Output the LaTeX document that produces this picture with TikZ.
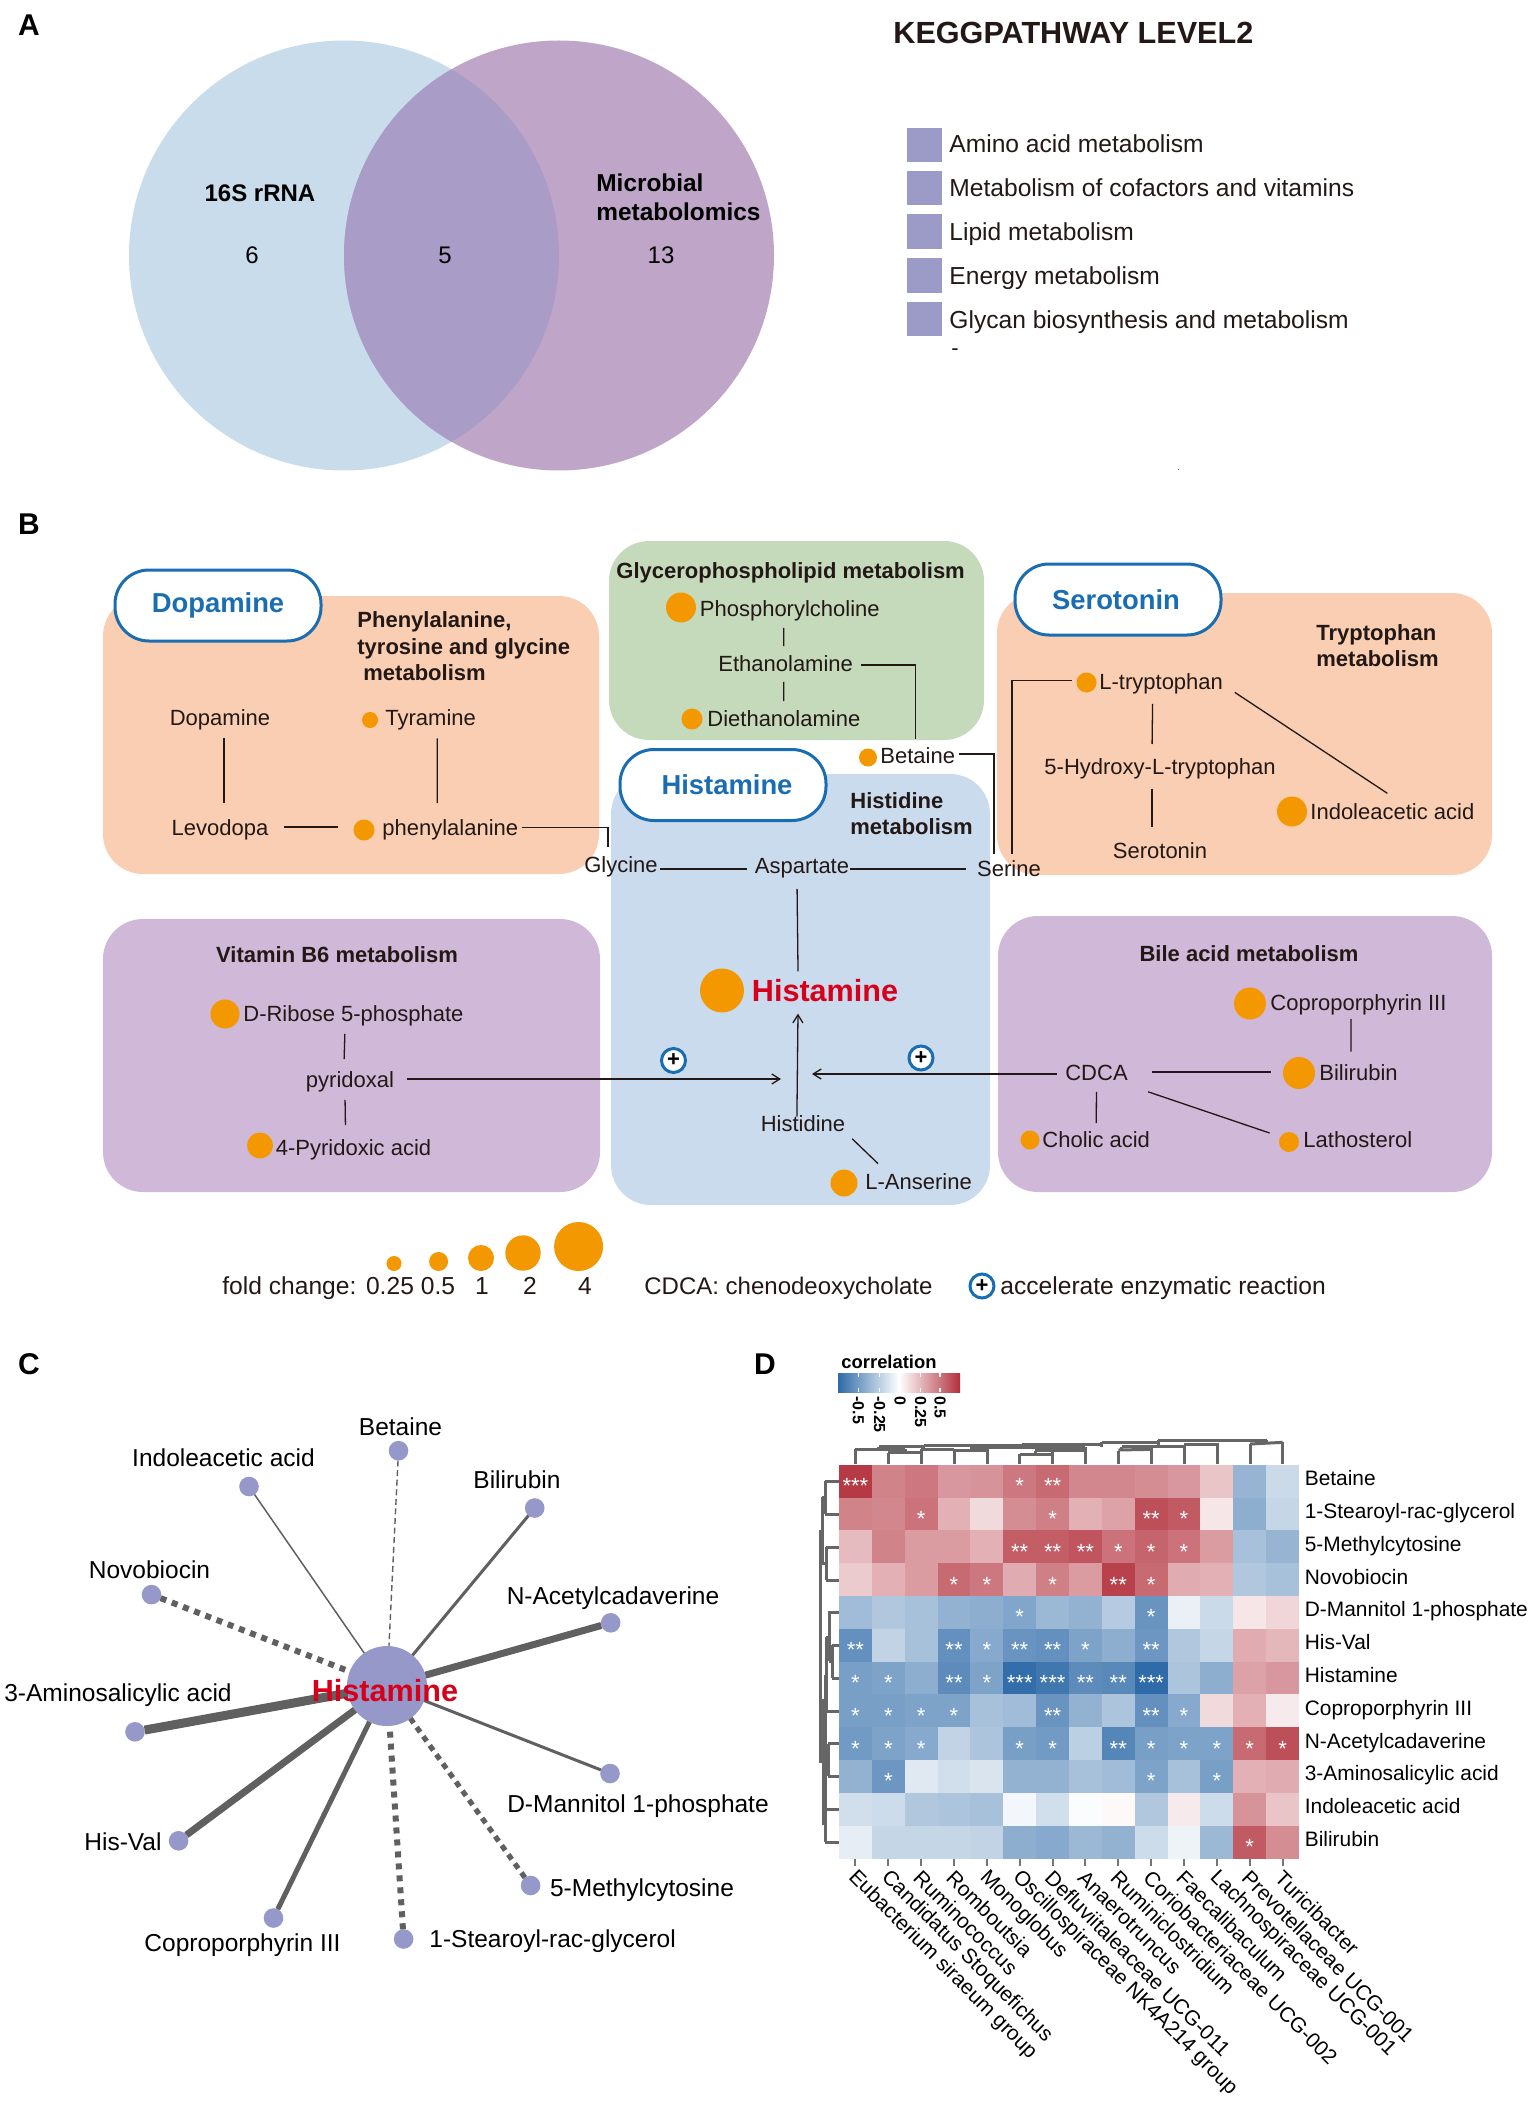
\documentclass[tikz,border=0pt]{standalone}
\usepackage{fontspec}
\setmainfont{Liberation Sans}
\usetikzlibrary{arrows.meta}
\definecolor{txtc}{HTML}{231815}
\definecolor{vennA}{HTML}{C9DCEC}
\definecolor{vennB}{HTML}{BFA6C8}
\definecolor{vennC}{HTML}{A99DC7}
\definecolor{legsq}{HTML}{9C9AC6}
\definecolor{boxo}{HTML}{F9CEB2}
\definecolor{boxg}{HTML}{C4DABB}
\definecolor{boxb}{HTML}{CADBEE}
\definecolor{boxp}{HTML}{CFB8D8}
\definecolor{pillc}{HTML}{1A6DB1}
\definecolor{dotc}{HTML}{F39800}
\definecolor{redc}{HTML}{D7001A}
\definecolor{hubc}{HTML}{9698C9}
\definecolor{edgec}{HTML}{606060}
\definecolor{hmb}{HTML}{2F6BA8}
\definecolor{hmr}{HTML}{B2303C}
\definecolor{dendc}{HTML}{666666}
\newcommand{\fsz}[1]{\fontsize{#1}{#1}\selectfont}
\tikzset{
  x=0.5pt,y=-0.5pt,
  t/.style={font=\fsz{11},text=txtc,inner sep=4pt,text height=8pt,text depth=0pt,yshift=0.65pt},
  lt/.style={t,anchor=west,xshift=-4pt},
  tb/.style={font=\fontsize{11}{13.3}\selectfont\bfseries,text=txtc,inner sep=0pt,align=left},
  odot/.style={circle,fill=dotc,inner sep=0pt,minimum size=#1},
  ln/.style={draw=txtc,line width=0.65pt},
  arw/.style={ln,-{Straight Barb[length=4pt,width=5pt]}},
  pathbox/.style={rounded corners=20pt},
  pillbox/.style={draw=pillc,fill=white,line width=1.5pt,rounded corners=17pt,minimum width=103pt,minimum height=35.5pt,font=\fsz{13.7}\bfseries,text=pillc,inner sep=0pt},
  plusc/.style={circle,draw=pillc,fill=white,line width=1.5pt,minimum size=12pt,inner sep=0pt,font=\fsz{11}\bfseries,text=black},
  letter/.style={font=\fsz{15}\bfseries,text=black,inner sep=0pt},
  venntext/.style={font=\fontsize{12.2}{14.7}\selectfont\bfseries,text=black,inner sep=0pt,align=left},
  vennnum/.style={font=\fsz{12},text=black,inner sep=0pt},
  keyt/.style={font=\fsz{12.3},text=txtc,inner sep=0pt,anchor=base west},
  legt/.style={font=\fsz{12.3},text=txtc,inner sep=0pt,text height=8.5pt,text depth=0pt},
  leaf/.style={circle,fill=hubc,inner sep=0pt,minimum size=9.8pt,outer sep=0pt},
  cl/.style={font=\fsz{12.25},text=black,inner sep=0pt,text height=8.5pt,text depth=0pt},
  ce/.style={draw=edgec,line width=#1},
  rl/.style={font=\fsz{10.45},text=black,inner sep=0pt,anchor=west,text height=7.5pt,text depth=0pt},
  cola/.style={font=\fsz{10.45},text=black,inner sep=0pt,anchor=west,rotate=-45},
  star/.style={font=\fsz{11},text=white,inner sep=0pt,anchor=base},
  dg/.style={draw=dendc,line width=1.5pt},
}
\begin{document}
\begin{tikzpicture}
\useasboundingbox[fill=white] (0,0) rectangle (1533,2102);

% ---------- panel letters
\node[letter] (lA) at (29,25) {A};
\node[letter] (lB) at (29,524) {B};
\node[letter] (lC) at (29,1364) {C};
\node[letter] (lD) at (765,1364) {D};

% ---------- panel A
\fill[vennA] (344,255.5) circle [radius=215];
\fill[vennB] (559,255.5) circle [radius=215];
\begin{scope}
  \clip (344,255.5) circle [radius=215];
  \fill[vennC] (559,255.5) circle [radius=215];
\end{scope}
\node[venntext,font=\fsz{12}\bfseries] (vL) at (260,193) {16S rRNA};
\node[venntext,anchor=west] (vR) at (596,197.5) {Microbial\\metabolomics};
\node[vennnum] (n6) at (252,255) {6};
\node[vennnum] (n5) at (445,255) {5};
\node[vennnum] (n13) at (661,255) {13};

\node[font=\fsz{15.3}\bfseries,text=txtc,inner sep=0pt,anchor=west] (kegg) at (893,33) {KEGGPATHWAY LEVEL2};
\foreach \ya/\yb/\yt/\lab [count=\i] in {128/162/152.7/Amino acid metabolism,171/205/196.7/Metabolism of cofactors and vitamins,214/249/240.7/Lipid metabolism,258/293/284.3/Energy metabolism,302/336/328.3/Glycan biosynthesis and metabolism}{
  \fill[legsq] (907,\ya) rectangle (942,\yb);
  \node[keyt] (key\i) at (949,\yt) {\lab};
}
\node[font=\fsz{11},text=txtc,inner sep=0pt] (dash1) at (955,352) {-};
\fill[gray] (1177.5,468.5) rectangle (1179,470);

% ---------- panel B boxes
\fill[boxo,pathbox] (103,596) rectangle (599,874);
\fill[boxp,pathbox] (103,919) rectangle (600,1192);
\fill[boxb,pathbox] (611,774) rectangle (990,1205);
\fill[boxg,pathbox] (609,541) rectangle (984,740);
\fill[boxo,pathbox] (997,593) rectangle (1492,875);
\fill[boxp,pathbox] (998,916) rectangle (1492,1192);

\node[pillbox] (pD) at (218,605.5) {Dopamine};
\node[pillbox] (pH) at (723,785) {\hspace*{4pt}Histamine};
\node[pillbox] (pS) at (1118,599.5) {\hspace*{-2pt}Serotonin};

% titles
\node[tb,anchor=west] (tPhe) at (357,646.5) {Phenylalanine,\\tyrosine and glycine\\\hspace*{3pt}metabolism};
\node[tb,anchor=west] (tGly) at (616,572.5) {Glycerophospholipid metabolism};
\node[tb,anchor=west] (tHis) at (850,813.5) {Histidine\\metabolism};
\node[tb,anchor=west] (tTrp) at (1316,645.5) {Tryptophan\\metabolism};
\node[tb] (tVit) at (337,955) {Vitamin B6 metabolism};
\node[tb] (tBil) at (1249,954) {Bile acid metabolism};

% left orange
\node[t] (dop) at (220,719) {Dopamine};
\node[odot=8pt] (dTyr) at (370,720) {};
\node[lt] (tyr) at (385,719) {Tyramine};
\node[t] (lev) at (220,829) {Levodopa};
\node[odot=10.5pt] (dPhe) at (364,830) {};
\node[lt] (phe) at (382,829) {phenylalanine};
% green
\node[odot=15pt] (dPho) at (681,607.5) {};
\node[lt] (pho) at (699.5,610) {Phosphorylcholine};
\node[lt] (eth) at (718,665) {Ethanolamine};
\node[odot=10.5pt] (dDie) at (692,719) {};
\node[lt] (die) at (707,720) {Diethanolamine};
\node[odot=9pt] (dBet) at (868,757.5) {};
\node[lt] (bet) at (880,757) {Betaine};
% centre
\node[t] (gly) at (621,866) {Glycine};
\node[t] (asp) at (802,867) {Aspartate};
\node[t] (ser) at (1009,870) {Serine};
\node[odot=22pt] (dHis) at (722,990.5) {};
\node[font=\fsz{15.3}\bfseries,text=redc,inner sep=4pt,anchor=west,xshift=-4pt] (his) at (751.5,991) {Histamine};
\node[t] (hisd) at (803,1125) {Histidine};
\node[odot=13.5pt] (dAns) at (844,1183) {};
\node[lt] (ans) at (865,1183) {L-Anserine};
% right orange
\node[odot=10pt] (dTrp) at (1086.5,682.5) {};
\node[lt] (trp) at (1099,683) {L-tryptophan};
\node[t] (hyd) at (1160,768) {5-Hydroxy-L-tryptophan};
\node[t] (srt) at (1160,852) {Serotonin};
\node[odot=15pt] (dInd) at (1292,811.5) {};
\node[lt] (ind) at (1310,813) {Indoleacetic acid};
% left purple
\node[odot=14.5pt] (dRib) at (225,1014) {};
\node[lt] (rib) at (243,1015) {D-Ribose 5-phosphate};
\node[t] (pyr) at (350,1081) {pyridoxal};
\node[odot=13pt] (dPyx) at (260,1145.5) {};
\node[lt] (pyx) at (275.5,1149) {4-Pyridoxic acid};
% right purple
\node[odot=16pt] (dCop) at (1250,1003.5) {};
\node[lt] (cop) at (1270,1003.5) {Coproporphyrin III};
\node[odot=16pt] (dBil) at (1299,1073) {};
\node[lt] (bil) at (1319,1074) {Bilirubin};
\node[t] (cdca) at (1096.5,1074) {CDCA};
\node[odot=9.5pt] (dCho) at (1030,1140) {};
\node[lt] (cho) at (1042,1141) {Cholic acid};
\node[odot=10pt] (dLat) at (1289,1142) {};
\node[lt] (lat) at (1303,1141) {Lathosterol};

% arrow targets
\coordinate (hitA) at (781,1079);
\coordinate (hitB) at (812,1074);

% connectors
\draw[ln,shorten <=2.1pt,shorten >=4.15pt] ([xshift=2pt]dop.south) -- ([xshift=2pt]lev.north);
\draw[ln,shorten <=2.1pt,shorten >=4.15pt] ([xshift=3.25pt]tyr.south) -- ([xshift=-6.5pt]phe.north);
\draw[ln,shorten <=3.5pt,shorten >=7.75pt] ([yshift=0.35pt]lev.east) -- ([yshift=1.5pt]dPhe.west);
\draw[ln,shorten <=-2.5pt,shorten >=0.85pt] (phe.east) -| ([xshift=-6.5pt]gly.north);
\draw[ln,shorten <=-3pt] ([yshift=-2.15pt]gly.east) -- ([yshift=-1.65pt]asp.west);
\draw[ln,shorten <=-3.5pt,shorten >=1.5pt] ([yshift=-1.65pt]asp.east) -- ([yshift=-0.15pt]ser.west);
\draw[ln,shorten <=3.35pt] ([xshift=-2.5pt]asp.south) -- ([xshift=-13.5pt]his.north);
\draw[arw,shorten <=-4.65pt,shorten >=1.5pt] ([xshift=-3pt]hisd.north) -- ([xshift=-13.5pt]his.south);
\draw[ln,shorten <=-1pt] (hisd.south east) -- ([xshift=10.5pt,yshift=0.85pt]ans.north west);
% green
\draw[ln,shorten <=1.35pt,shorten >=0.65pt] ([xshift=-3pt]pho.south) -- ([xshift=-1pt]eth.north);
\draw[ln,shorten <=0.85pt,shorten >=0.65pt] ([xshift=-1pt]eth.south) -- (die.north);
\draw[ln,shorten >=0.35pt] ([yshift=-0.65pt]eth.east) -| ([xshift=-1pt]bet.north);
\draw[ln,shorten <=-2pt,shorten >=-0.65pt] ([yshift=0.85pt]bet.east) -| ([xshift=-7.5pt]ser.north);
\draw[ln,shorten >=-0.65pt] ([yshift=1pt,xshift=-2pt]dTrp.west) -| ([xshift=1.5pt]ser.north);
% right orange
\draw[ln,shorten <=2.85pt,shorten >=3.15pt] ([xshift=-4.25pt]trp.south) -- ([xshift=-4pt]hyd.north);
\draw[ln,shorten <=2.85pt,shorten >=3.65pt] ([xshift=-4pt]hyd.south) -- ([xshift=-4pt]srt.north);
\draw[ln] ([xshift=1.75pt,yshift=2.85pt]trp.south east) -- ([xshift=-2.5pt,yshift=1pt]ind.north);
% left purple
\draw[ln,shorten <=1.85pt,shorten >=2.15pt] ([xshift=-4.25pt]rib.south) -- ([xshift=-3pt]pyr.north);
\draw[ln,shorten <=1.85pt,shorten >=3.15pt] ([xshift=-2.5pt]pyr.south) -- ([xshift=-4pt]pyx.north);
\draw[arw,shorten <=2.5pt] (pyr.east |- hitA) -- (hitA);
% right purple
\draw[ln,shorten <=0.1pt,shorten >=2.4pt] ([xshift=-3.75pt]cop.south) -- ([xshift=-3.75pt]bil.north);
\draw[arw] (cdca.west |- hitB) -- (hitB);
\draw[ln,shorten <=8pt,shorten >=6pt] ([yshift=0.35pt]cdca.east) -- ([yshift=0.5pt]dBil.west);
\draw[ln,shorten <=1.4pt,shorten >=0.15pt] (cdca.south) -- (cho.north);
\draw[ln] ([xshift=6pt,yshift=-1.35pt]cdca.south east) -- ([xshift=-4.5pt,yshift=4.5pt]dLat.west);

\node[plusc] (pl1) at (673.5,1060.5) {+};
\node[plusc] (pl2) at (921,1058) {+};

% fold change legend
\node[odot=7.5pt] (f1) at (394,1263.5) {};
\node[odot=9.5pt] (f2) at (438.6,1261.5) {};
\node[odot=13pt] (f3) at (481,1258) {};
\node[odot=17.7pt] (f4) at (523,1253) {};
\node[odot=24.5pt] (f5) at (578.6,1246.5) {};
\node[legt,anchor=west] (fc) at (222,1286) {fold change:};
\node[legt] (v1) at (390,1286) {0.25};
\node[legt] (v2) at (438,1286) {0.5};
\node[legt] (v3) at (482,1286) {1};
\node[legt] (v4) at (530,1286) {2};
\node[legt] (v5) at (585,1286) {4};
\node[legt,anchor=west,font=\fsz{12}] (cdt) at (644,1286) {CDCA: chenodeoxycholate};
\node[plusc] (pl3) at (982,1286) {+};
\node[legt,anchor=west] (acc) at (1000,1286) {accelerate enzymatic reaction};

% ---------- panel C
\node[circle,fill=hubc,inner sep=0pt,minimum size=40pt,outer sep=0pt] (hub) at (387,1686) {};
\node[leaf] (lBet) at (398.5,1450.7) {};
\node[leaf] (lInd) at (249,1486.5) {};
\node[leaf] (lBil) at (534.7,1508) {};
\node[leaf] (lNov) at (151.5,1594.6) {};
\node[leaf] (lNac) at (610.7,1622.8) {};
\node[leaf] (lAsa) at (135,1731.8) {};
\node[leaf] (lMan) at (610,1773.5) {};
\node[leaf] (lHvl) at (178.6,1840.8) {};
\node[leaf] (lMet) at (530.6,1885.5) {};
\node[leaf] (lCop) at (273.5,1918) {};
\node[leaf] (lSte) at (403.6,1939) {};
\draw[ce=0.7pt,dash pattern=on 3pt off 1.8pt] (lBet) -- (hub);
\draw[ce=0.75pt] (lInd) -- (hub);
\draw[ce=1.5pt] (lBil) -- (hub);
\draw[ce=3pt,dash pattern=on 3pt off 3pt] (lNov) -- (hub);
\draw[ce=3.5pt] (lNac) -- (hub);
\draw[ce=4.5pt] (lAsa) -- (hub);
\draw[ce=1.5pt] (lMan) -- (hub);
\draw[ce=3.5pt] (lHvl) -- (hub);
\draw[ce=2.6pt,dash pattern=on 3pt off 2.6pt] (lMet) -- (hub);
\draw[ce=2.5pt] (lCop) -- (hub);
\draw[ce=3pt,dash pattern=on 3pt off 3pt] (lSte) -- (hub);
\node[font=\fsz{15.3}\bfseries,text=redc,inner sep=0pt] (hubt) at (385,1690.5) {Histamine};
\node[cl] (cBet) at (400.5,1427) {Betaine};
\node[cl] (cInd) at (223.5,1458) {Indoleacetic acid};
\node[cl] (cBil) at (517,1480) {Bilirubin};
\node[cl] (cNov) at (149.5,1570) {Novobiocin};
\node[cl] (cNac) at (613,1595.5) {N-Acetylcadaverine};
\node[cl] (cAsa) at (118,1692.7) {3-Aminosalicylic acid};
\node[cl] (cMan) at (638,1804) {D-Mannitol 1-phosphate};
\node[cl] (cHvl) at (123,1841.7) {His-Val};
\node[cl] (cMet) at (642,1888) {5-Methylcytosine};
\node[cl] (cCop) at (242.5,1943) {Coproporphyrin III};
\node[cl] (cSte) at (552.6,1939) {1-Stearoyl-rac-glycerol};

% ---------- panel D
\node[font=\fsz{9.2}\bfseries,text=black,inner sep=0pt] (corr) at (889,1362) {correlation};
\shade[left color=hmb,right color=white] (838,1373) rectangle (899,1392);
\shade[left color=white,right color=hmr] (899,1373) rectangle (960,1392);
\foreach \xx/\lab [count=\i] in {858.4/-0.5,879.5/-0.25,900/0,920.6/0.25,940/0.5}{
  \draw[white,line width=0.8pt] (\xx,1373) -- (\xx,1377);
  \draw[white,line width=0.8pt] (\xx,1388) -- (\xx,1392);
  \node[font=\fsz{8}\bfseries,text=black,inner sep=0pt,anchor=west,rotate=-90] (cb\i) at (\xx,1396) {\lab};
}
% heat map
\foreach \rowv [count=\r] in {
 {95,60,65,50,52,65,72,58,58,55,50,28,-50,-25},
 {60,58,68,38,18,55,62,38,45,85,80,12,-55,-28},
 {33,60,48,48,38,78,78,82,68,75,68,48,-42,-50},
 {25,38,48,72,65,40,62,48,92,72,40,38,-38,-42},
 {-45,-38,-42,-52,-55,-60,-48,-52,-35,-72,-10,-25,12,20},
 {-75,-30,-42,-75,-58,-72,-75,-62,-55,-70,-38,-28,40,35},
 {-65,-62,-55,-78,-62,-98,-92,-78,-80,-100,-40,-55,45,50},
 {-65,-65,-62,-62,-42,-45,-72,-52,-40,-75,-58,18,38,10},
 {-68,-62,-58,-30,-40,-65,-68,-32,-82,-65,-62,-62,72,85},
 {-52,-70,-15,-22,-18,-52,-52,-42,-45,-62,-42,-65,38,40},
 {-22,-24,-38,-40,-42,-6,-22,-2,3,-38,10,-24,52,28},
 {-12,-28,-28,-28,-30,-55,-58,-48,-52,-24,-8,-48,80,55}}{
  \foreach \v [count=\c] in \rowv {
    \pgfmathtruncatemacro\vv{abs(\v)}
    \ifnum\v<0 \colorlet{cellcol}{hmb!\vv!white}\else\colorlet{cellcol}{hmr!\vv!white}\fi
    \fill[cellcol] ({839+32.857*(\c-1)},{1464.7+32.8*(\r-1)}) rectangle ({839+32.857*\c+0.4},{1464.7+32.8*\r+0.4});
  }
}
\foreach \r/\c/\s in {1/1/***,1/6/*,1/7/**,
 2/3/*,2/7/*,2/10/**,2/11/*,
 3/6/**,3/7/**,3/8/**,3/9/*,3/10/*,3/11/*,
 4/4/*,4/5/*,4/7/*,4/9/**,4/10/*,
 5/6/*,5/10/*,
 6/1/**,6/4/**,6/5/*,6/6/**,6/7/**,6/8/*,6/10/**,
 7/1/*,7/2/*,7/4/**,7/5/*,7/6/***,7/7/***,7/8/**,7/9/**,7/10/***,
 8/1/*,8/2/*,8/3/*,8/4/*,8/7/**,8/10/**,8/11/*,
 9/1/*,9/2/*,9/3/*,9/6/*,9/7/*,9/9/**,9/10/*,9/11/*,9/12/*,9/13/*,9/14/*,
 10/2/*,10/10/*,10/12/*,
 12/13/*}{
  \node[star] (st-\r-\c) at ({839+32.857*(\c-0.5)},{1464.7+32.8*(\r-0.5)+12.5}) {\s};
}
% row labels
\foreach \lab [count=\r] in {Betaine,1-Stearoyl-rac-glycerol,5-Methylcytosine,Novobiocin,D-Mannitol 1-phosphate,His-Val,Histamine,Coproporphyrin III,N-Acetylcadaverine,3-Aminosalicylic acid,Indoleacetic acid,Bilirubin}{
  \node[rl] (rl\r) at (1304.4,{1464.7+32.8*(\r-0.5)-3}) {\lab};
}
% column labels and ticks
\foreach \lab [count=\c] in {Eubacterium siraeum group,Candidatus Stoquefichus,Ruminococcus,Romboutsia,Monoglobus,Oscillospiraceae NK4A214 group,Defluviitaleaceae UCG-011,Anaerotruncus,Ruminiclostridium,Coriobacteriaceae UCG-002,Faecalibaculum,Lachnospiraceae UCG-001,Prevotellaceae UCG-001,Turicibacter}{
  \draw[draw=dendc!90,line width=1pt] ({839+32.857*(\c-0.5)},1858.5) -- ({839+32.857*(\c-0.5)},1866);
  \node[cola] (cla\c) at ({839+32.857*(\c-0.5)-4},1874) {\lab};
}
% top dendrogram (drawn in a 3x grid)
\begin{scope}[x=0.16667pt,y=-0.16667pt,shift={(415pt,-715pt)}]
  \foreach \a/\b/\c/\d in {
   76/58/225/58,175/68/274/68,225/58/225/68,76/58/76/103,175/68/175/103,274/58/274/103,
   274/58/372/58,372/62/471/62,372/58/372/103,471/52/471/103,
   146/50/280/50,146/50/146/58,280/46/280/58,282/46/575/46,
   569/72/668/72,569/72/569/103,668/66/668/103,615/62/766/62,615/62/615/72,766/62/766/103,
   425/52/425/62,425/52/690/52,690/52/690/62,690/52/766/52,
   575/42/815/42,575/42/575/46,766/52/766/62,
   865/60/964/58,865/62/865/103,964/50/964/103,875/50/1062/50,875/50/875/60,
   815/37/985/37,815/37/815/50,985/31/1310/31,985/31/985/50,
   1062/44/1161/44,1062/44/1062/103,1161/40/1161/103,
   1260/42/1358/37,1260/42/1260/103,1358/37/1358/103,1310/31/1310/40}{
    \draw[dg] (\a,\b) -- (\c,\d);
  }
\end{scope}
% left dendrogram
\foreach \a/\b/\c/\d in {
  824.5/1481/839/1481, 825/1514/839/1514, 825/1481/825/1514,
  826/1547/839/1547, 826/1580/839/1580, 826/1547/826/1580,
  822/1497/825/1497, 822/1563/826/1563, 822.5/1497/822.5/1563,
  820.5/1530/820.5/1763,
  828/1612/839/1612, 832/1645/839/1645, 832/1678/839/1678, 832/1645/832/1678,
  829/1661/832/1661, 829/1612/829/1661,
  826/1637/829/1637, 826/1637/826/1711, 826/1711/839/1711,
  828/1743.5/839/1743.5, 828/1776/839/1776, 828/1743.5/828/1776,
  825/1760/828/1760, 825/1675/825/1808,
  825/1809/839/1809, 825/1842/839/1842, 825/1809/825/1842,
  823.5/1700/823.5/1825, 823.5/1825/825/1825, 820.5/1700/823.5/1700}{
  \draw[dg] (\a,\b) -- (\c,\d);
}
\end{tikzpicture}
\end{document}
